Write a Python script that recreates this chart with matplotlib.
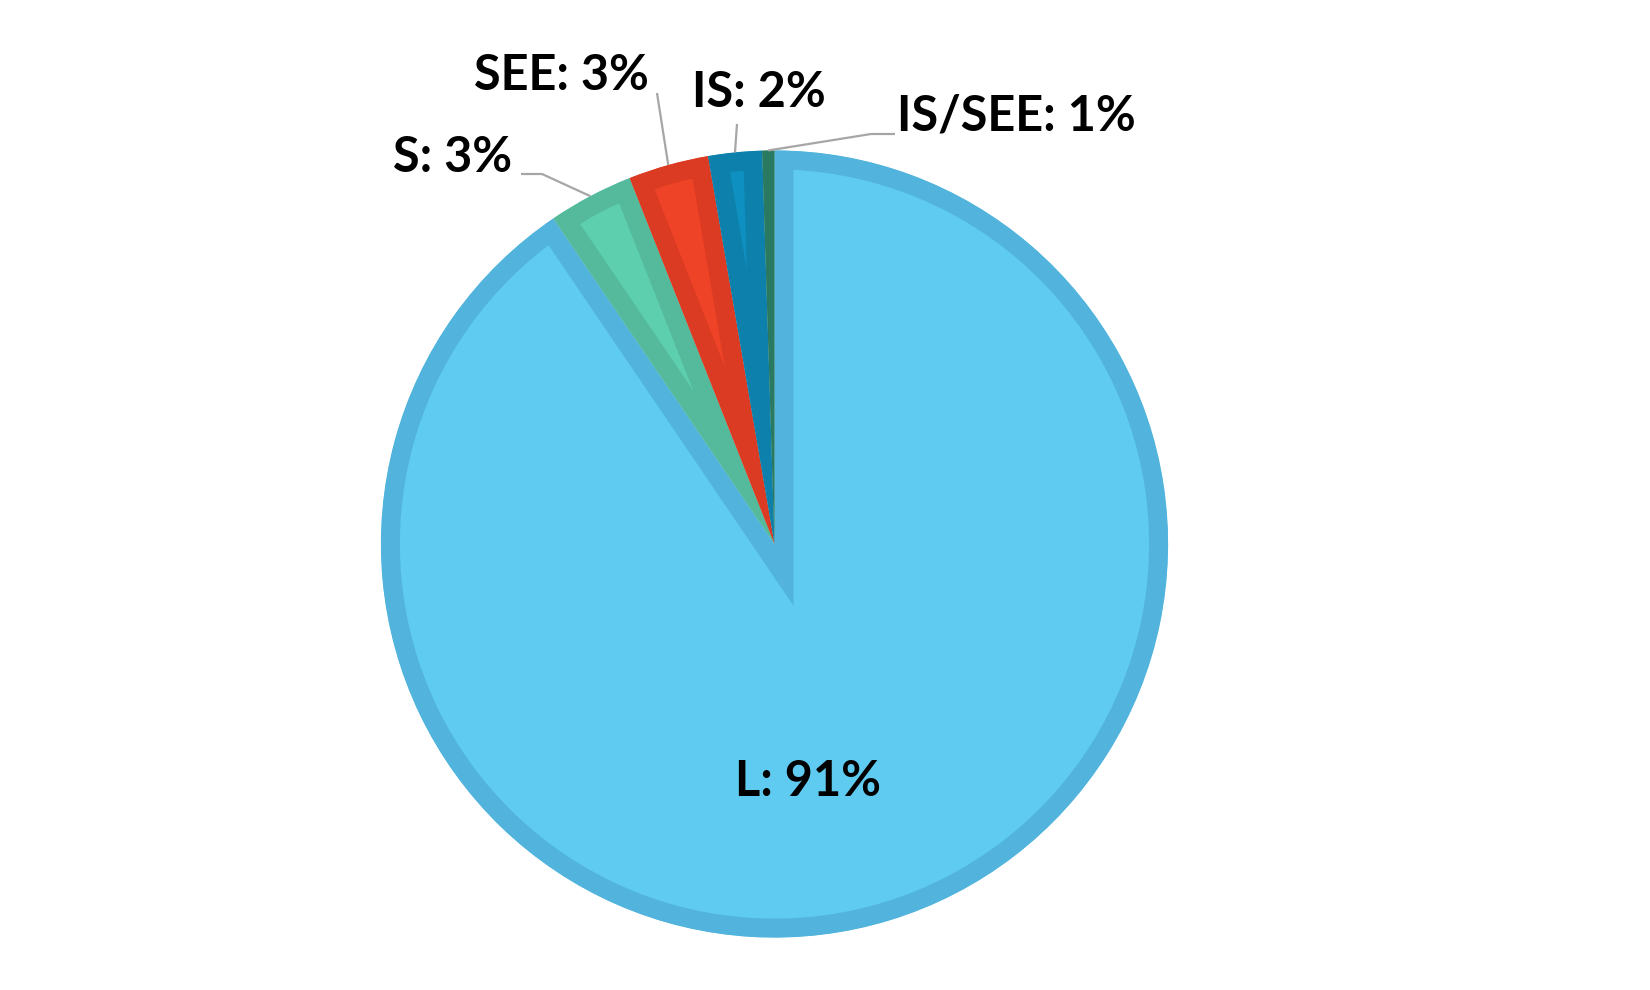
import numpy as np
import matplotlib.pyplot as plt

# slice data, clockwise from 12 o'clock
categories = ['L', 'S', 'SEE', 'IS', 'IS/SEE']
shares = [90.5, 3.5, 3.3, 2.2, 0.5]
labels = ['L: 91%', 'S: 3%', 'SEE: 3%', 'IS: 2%', 'IS/SEE: 1%']

fills = ['#5FCBF0', '#5DCEAE', '#EE4326', '#0E90C0', '#2E8A6E']
borders = ['#52B4DC', '#55B99C', '#DA3B22', '#0D80AB', '#2A7A62']

plt.rcParams['font.family'] = ['Lato', 'DejaVu Sans']

W, H, DPI = 1650, 990, 100
cx, cy, R = 774.5, 544.0, 393.6   # pie centre / radius in pixels

fig = plt.figure(figsize=(W / DPI, H / DPI), dpi=DPI)
ax = fig.add_axes([0, 0, 1, 1])

wedges, _ = ax.pie(shares, startangle=90, counterclock=False, radius=1.0,
                   colors=fills, wedgeprops=dict(linewidth=0))

ax.set_xlim(-cx / R, (W - cx) / R)
ax.set_ylim(-(H - cy) / R, cy / R)
ax.set_aspect('equal')
ax.axis('off')

# inner border: double-width stroke clipped to the wedge itself
border_pt = 19 * 72 / DPI
for w, ec in zip(wedges, borders):
    w.set_edgecolor(ec)
    w.set_linewidth(2 * border_pt)
    w.set_joinstyle('miter')
    w.set_clip_path(w)
    w.set_clip_on(True)   # pie turns clipping off by default


def edge_point(w):
    mid = np.deg2rad((w.theta1 + w.theta2) / 2)
    return np.cos(mid), np.sin(mid)


def px(x, y):
    return (x - cx) / R, (cy - y) / R


# label text positions (pixel centres) and leader line paths
text_pos = {
    'L': (808, 782),
    'S': (453, 158),
    'SEE': (561, 76),
    'IS': (759, 92),
    'IS/SEE': (1016, 116),
}
leader_pts = {
    'S': [(521, 174), (542, 174)],
    'SEE': [(657, 93)],
    'IS': [(737, 124)],
    'IS/SEE': [(895, 134), (871, 134)],
}

for w, cat, lab in zip(wedges, categories, labels):
    tx, ty = px(*text_pos[cat])
    ax.text(tx, ty, lab, ha='center', va='center', fontsize=35,
            fontweight='bold', color='black')
    if cat in leader_pts:
        pts = [px(*p) for p in leader_pts[cat]] + [edge_point(w)]
        xs, ys = zip(*pts)
        ax.plot(xs, ys, color='#A6A6A6', linewidth=1.6, solid_capstyle='butt')

fig.savefig('out.png', dpi=DPI)
